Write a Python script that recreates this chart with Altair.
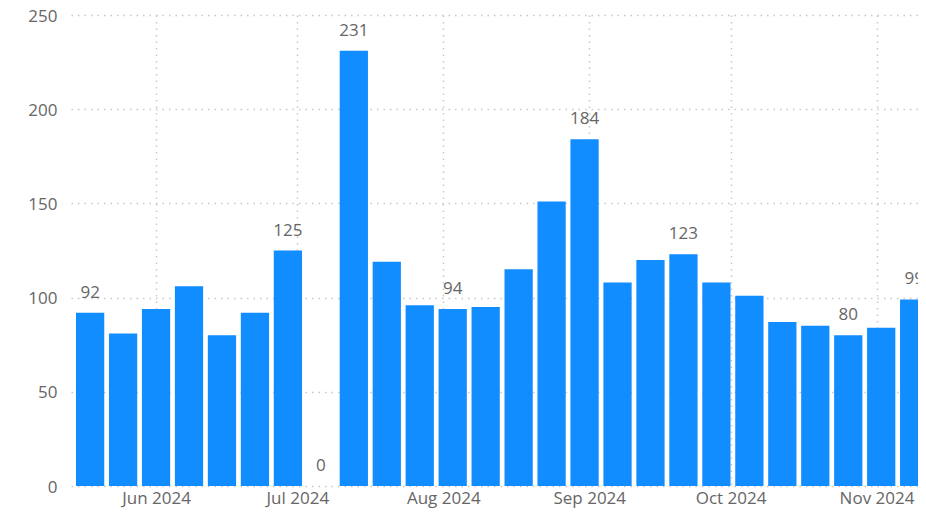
import altair as alt
import pandas as pd

week_dates = [
    "2024-05-18", "2024-05-25", "2024-06-01", "2024-06-08", "2024-06-15",
    "2024-06-22", "2024-06-29", "2024-07-06", "2024-07-13", "2024-07-20",
    "2024-07-27", "2024-08-03", "2024-08-10", "2024-08-17", "2024-08-24",
    "2024-08-31", "2024-09-07", "2024-09-14", "2024-09-21", "2024-09-28",
    "2024-10-05", "2024-10-12", "2024-10-19", "2024-10-26", "2024-11-02",
    "2024-11-09",
]
counts = [92, 81, 94, 106, 80, 92, 125, 0, 231, 119, 96, 94, 95, 115, 151,
          184, 108, 120, 123, 108, 101, 87, 85, 80, 84, 99]
data_labels = ["92", "", "", "", "", "", "125", "0", "231", "", "", "94", "",
               "", "", "184", "", "", "123", "", "", "", "", "80", "", "99"]
y_ticks = [0, 50, 100, 150, 200, 250]

df = pd.DataFrame({
    "date": [d + "T00:00:00" for d in week_dates],
    "count": counts,
    "label": data_labels,
})

FONT = "Open Sans"
TXT = "#666666"
GRID = "#c8c8c8"

x_scale = alt.Scale(
    domain=[alt.DateTime(year=2024, month=5, date=15),
            alt.DateTime(year=2024, month=11, date=8, hours=18)],
    nice=False,
)
y_scale = alt.Scale(domain=[0, 250], nice=False)

base = alt.Chart(df)

bars = base.transform_calculate(
    start="toDate(datum.date) - 3*86400000",
    end="toDate(datum.date) + 3*86400000",
).mark_bar(color="#118DFF", clip=True, orient="vertical").encode(
    x=alt.X("start:T", scale=x_scale, title=None,
            axis=alt.Axis(format="%b %Y", tickCount={"interval": "month", "step": 1},
                          ticks=False, domain=False, labelFlush=False,
                          labelPadding=4, grid=True)),
    x2="end:T",
    y=alt.Y("count:Q", scale=y_scale, title=None,
            axis=alt.Axis(values=y_ticks, ticks=False, domain=False,
                          labelPadding=14, grid=True,
                          labelBaseline="alphabetic", labelOffset=6)),
    y2=alt.datum(0),
)

text = base.mark_text(baseline="alphabetic", dy=-15, font=FONT,
                      fontSize=17, color=TXT).encode(
    x=alt.X("date:T", scale=x_scale),
    y=alt.Y("count:Q", scale=y_scale),
    text="label:N",
)

chart = alt.layer(bars, text).properties(
    width=847,
    height=471,
    padding={"left": 63, "top": 7, "right": 0, "bottom": 23},
    autosize=alt.AutoSizeParams(type="none"),
).configure_view(stroke=None).configure_axis(
    labelFont=FONT, labelFontSize=17, labelColor=TXT,
    gridColor=GRID, gridDash=[1.5, 5], gridWidth=1.5,
)

chart.save("out.html", embed_options={"renderer": "svg", "actions": False})
